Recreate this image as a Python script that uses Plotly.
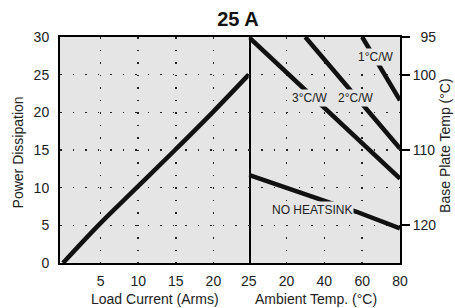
import plotly.graph_objects as go

# ---- data ----
load_current = [0, 4.7, 9.8, 14.9, 19.9, 24.7]          # Arms
power_dissipation = [0, 5, 10, 15, 20, 25]              # W

amb_3cw = [0, 80]
temp_3cw = [95, 113.8]
amb_2cw = [29.9, 80]
temp_2cw = [95, 109.8]
amb_1cw = [60, 80]
temp_1cw = [95, 103.4]
amb_nohs = [0, 43, 57, 80]
temp_nohs = [113.3, 116.9, 118.2, 120.4]

power_ticks = [0, 5, 10, 15, 20, 25, 30]
current_ticks = [5, 10, 15, 20]
ambient_tickvals = [0, 20, 40, 60, 80]
ambient_ticktext = ["25", "20", "40", "60", "80"]
temp_tickvals = [95, 100, 110, 120]
temp_ticktext = ["\u200795", "100", "110", "120"]
temp_minor = [105, 115]

labels = [("1°C/W", 67, 97.6), ("3°C/W", 32.3, 103.1),
          ("2°C/W", 56.4, 103.1), ("NO HEATSINK", 33.5, 118.0)]

FONT = "Liberation Sans, Arial, sans-serif"
BG = "#e5e5e5"
GRID = dict(showgrid=True, gridcolor="#222222", gridwidth=1.6, griddash="1.6px,10.9px")
LINE = dict(showline=True, linecolor="black", linewidth=2, zeroline=False)

W, H = 455, 308
PL, PR, PT, PB = 60, 400.5, 37, 263

fig = go.Figure()
fig.add_trace(go.Scatter(x=load_current, y=power_dissipation, mode="lines",
                         line=dict(color="#111111", width=4.5, shape="spline", smoothing=1),
                         xaxis="x", yaxis="y", showlegend=False, hoverinfo="skip"))
for xs, ys in [(amb_3cw, temp_3cw), (amb_2cw, temp_2cw), (amb_1cw, temp_1cw), (amb_nohs, temp_nohs)]:
    fig.add_trace(go.Scatter(x=xs, y=ys, mode="lines",
                             line=dict(color="#111111", width=4.5),
                             xaxis="x2", yaxis="y2", showlegend=False, hoverinfo="skip"))

split = (249 - 60) / 340.5

fig.update_layout(
    width=W, height=H,
    margin=dict(l=PL, r=W - PR, t=PT, b=H - PB, autoexpand=False),
    paper_bgcolor="white", plot_bgcolor=BG,
    font=dict(family=FONT, size=14, color="#222222"),
    title=dict(text="<b>25 A</b>", x=238 / W, xref="container", xanchor="center",
               y=1 - 19 / H, yref="container", yanchor="middle",
               font=dict(size=20, color="#111111", family=FONT)),
    xaxis=dict(domain=[0, split], range=[-0.4, 24.7], tickvals=current_ticks,
               ticks="", ticklabelstandoff=4, anchor="y", mirror=True, **GRID, **LINE),
    xaxis2=dict(domain=[split, 1], range=[0, 80], tickvals=ambient_tickvals,
                ticktext=ambient_ticktext, ticks="", ticklabelstandoff=4,
                anchor="y2", mirror=True, **GRID, **LINE),
    yaxis=dict(domain=[0, 1], range=[0, 30], tickvals=power_ticks, ticks="",
               ticklabelstandoff=6, anchor="x", side="left", mirror=True, **GRID, **LINE),
    yaxis2=dict(domain=[0, 1], range=[125, 95], tickvals=temp_tickvals,
                ticktext=temp_ticktext, ticks="outside", ticklen=8, tickwidth=2,
                tickcolor="black", anchor="x2", side="right", mirror=False,
                minor=dict(tickvals=temp_minor, showgrid=True, gridcolor="#222222",
                           gridwidth=1.6, griddash="1.6px,10.9px", ticks=""),
                **GRID, **LINE),
)

for text, xv, yv in labels:
    fig.add_annotation(x=xv, y=yv, xref="x2", yref="y2", text=text, showarrow=False,
                       bgcolor=BG, borderpad=1, font=dict(size=12, color="#222222"))

titles = [("Load Current (Arms)", 0.280, -0.159, 0),
          ("Ambient Temp. (°C)", 0.754, -0.159, 0),
          ("Power Dissipation", -0.123, 0.49, -90),
          ("Base Plate Temp (°C)", (446 - 60) / 340.5, 0.52, -90)]
for text, xv, yv, ang in titles:
    fig.add_annotation(x=xv, y=yv, xref="paper", yref="paper", text=text, showarrow=False,
                       textangle=ang, xanchor="center", yanchor="middle",
                       font=dict(size=14, color="#222222"))

fig.write_html("out.html", config={"displayModeBar": False, "staticPlot": True},
               post_script="document.body.style.margin='0';document.body.style.overflow='hidden';")
